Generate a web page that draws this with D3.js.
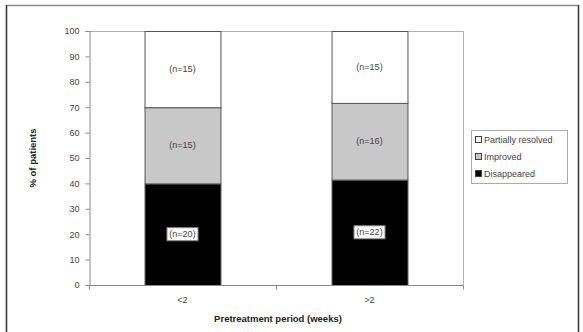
<!DOCTYPE html>
<html>
<head>
<meta charset="utf-8">
<script src="https://cdn.jsdelivr.net/npm/d3@7"></script>
<style>
  html, body { margin: 0; padding: 0; background: #fff; }
  svg { display: block; font-family: "Liberation Sans", Arial, sans-serif; }
</style>
</head>
<body>
<svg id="chart" width="583" height="332"></svg>
<script>
// Pretreatment period groups
const categories = ["<2", ">2"];
// Patient counts per outcome in each group
const disappeared = [20, 22];
const improved = [15, 16];
const partiallyResolved = [15, 15];
const seriesNames = ["Disappeared", "Improved", "Partially resolved"];
const seriesFills = ["#000000", "#c8c8c8", "#ffffff"];
const yTicks = [0, 10, 20, 30, 40, 50, 60, 70, 80, 90, 100];

const svg = d3.select("#chart");
const W = 583, H = 332;
const plot = { left: 89, right: 463, top: 31, bottom: 285 };
const FS = 9;

// Outer frame
svg.append("line").attr("x1", 6.5).attr("x2", 578.5).attr("y1", 5.5).attr("y2", 5.5)
  .attr("stroke", "#8a8a8a").attr("stroke-width", 1.5);
svg.append("line").attr("x1", 6.5).attr("x2", 6.5).attr("y1", 5).attr("y2", H)
  .attr("stroke", "#333").attr("stroke-width", 1.5);
svg.append("line").attr("x1", 578.5).attr("x2", 578.5).attr("y1", 5).attr("y2", H)
  .attr("stroke", "#333").attr("stroke-width", 1.5);

const x = d3.scaleBand().domain(categories)
  .range([plot.left, plot.right]).paddingInner(0.594).paddingOuter(0.297);
const y = d3.scaleLinear().domain([0, 100]).range([plot.bottom, plot.top]);

// Stack rows: percentages derived from the counts
const rows = categories.map((c, i) => {
  const counts = [disappeared[i], improved[i], partiallyResolved[i]];
  const total = d3.sum(counts);
  const r = { cat: c };
  seriesNames.forEach((s, j) => { r[s] = counts[j] / total * 100; r[s + "_n"] = counts[j]; });
  return r;
});
const stacked = d3.stack().keys(seriesNames)(rows);

// Plot area border (top and right)
svg.append("path")
  .attr("d", `M${plot.left},${plot.top + 0.5}H${plot.right + 0.5}V${plot.bottom}`)
  .attr("fill", "none").attr("stroke", "#b0b0b0").attr("stroke-width", 1);

// Bars
stacked.forEach((layer, j) => {
  svg.append("g").selectAll("rect").data(layer).join("rect")
    .attr("x", d => x(d.data.cat) + 0.5)
    .attr("y", d => y(d[1]) + 0.5)
    .attr("width", x.bandwidth())
    .attr("height", d => y(d[0]) - y(d[1]))
    .attr("fill", seriesFills[j])
    .attr("stroke", "#555").attr("stroke-width", 1);
});

// Count labels
stacked.forEach((layer, j) => {
  const g = svg.append("g");
  layer.forEach(d => {
    const cx = x(d.data.cat) + x.bandwidth() / 2;
    const cy = y((d[0] + d[1]) / 2);
    const txt = `(n=${d.data[seriesNames[j] + "_n"]})`;
    if (j === 0) {
      g.append("rect").attr("x", cx - 15.5).attr("y", cy - 6.5).attr("width", 31).attr("height", 13)
        .attr("fill", "#fff").attr("stroke", "#888").attr("stroke-width", 1);
    }
    g.append("text").attr("x", cx).attr("y", cy + 3)
      .attr("text-anchor", "middle").attr("font-size", FS).attr("fill", "#444")
      .text(txt);
  });
});

// Y axis
const yAxis = d3.axisLeft(y).tickValues(yTicks).tickSize(4).tickPadding(6);
const gy = svg.append("g").attr("transform", `translate(${plot.left + 0.5},0)`).call(yAxis);
gy.select(".domain").attr("stroke", "#888");
gy.selectAll(".tick line").attr("stroke", "#888");
gy.selectAll(".tick text").attr("font-size", FS).attr("fill", "#444")
  .attr("font-family", "Liberation Sans, Arial, sans-serif");

// X axis with ticks on band boundaries
const gx = svg.append("g").attr("transform", `translate(0,${plot.bottom + 0.5})`);
gx.append("line").attr("x1", plot.left).attr("x2", plot.right + 0.5)
  .attr("stroke", "#888");
const bounds = [plot.left, (x("<2") + x.bandwidth() + x(">2")) / 2, plot.right];
gx.selectAll("line.b").data(bounds).join("line").attr("class", "b")
  .attr("x1", d => d + 0.5).attr("x2", d => d + 0.5).attr("y1", 0).attr("y2", 4)
  .attr("stroke", "#888");
gx.selectAll("text").data(categories).join("text")
  .attr("x", d => x(d) + x.bandwidth() / 2).attr("y", 17)
  .attr("text-anchor", "middle").attr("font-size", FS).attr("fill", "#444")
  .text(d => d);

// Axis titles
svg.append("text").attr("x", (plot.left + plot.right) / 2 + 2).attr("y", 322)
  .attr("text-anchor", "middle").attr("font-size", 9.5).attr("font-weight", "bold").attr("fill", "#222")
  .text("Pretreatment period (weeks)");
svg.append("text").attr("transform", "translate(36,158) rotate(-90)")
  .attr("text-anchor", "middle").attr("font-size", 9.5).attr("font-weight", "bold").attr("fill", "#222")
  .text("% of patients");

// Legend
const legend = svg.append("g");
legend.append("rect").attr("x", 471.5).attr("y", 130.5).attr("width", 96).attr("height", 53)
  .attr("fill", "#fff").attr("stroke", "#aaa");
const legendOrder = [2, 1, 0];
legendOrder.forEach((j, k) => {
  const ly = 140 + k * 17;
  legend.append("rect").attr("x", 475.5).attr("y", ly - 3.5).attr("width", 6).attr("height", 6)
    .attr("fill", seriesFills[j]).attr("stroke", "#444");
  legend.append("text").attr("x", 484).attr("y", ly + 3)
    .attr("font-size", FS).attr("fill", "#444").text(seriesNames[j]);
});
</script>
</body>
</html>
